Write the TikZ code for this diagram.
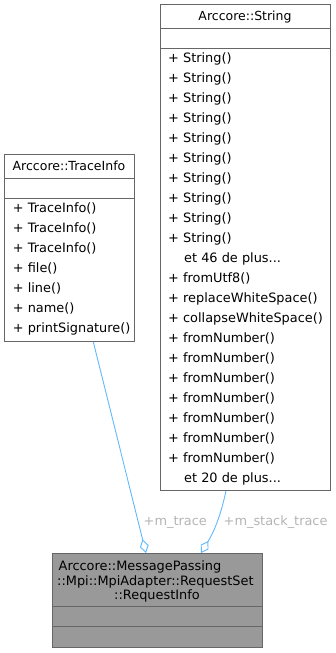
\documentclass[tikz,border=0pt]{standalone}
\usepackage{fontspec}
\setmainfont{DejaVu Sans}
\usetikzlibrary{arrows.meta,calc}
\definecolor{boxline}{HTML}{666666}
\definecolor{edgeblue}{HTML}{63B8FF}
\definecolor{labelgrey}{HTML}{B4B4B4}
\definecolor{classfill}{HTML}{999999}
\tikzset{
  classbox/.style={draw=boxline, line width=0.9pt, inner sep=0pt, anchor=north west},
  sepline/.style={draw=boxline, line width=0.9pt},
  member/.style={anchor=base west, inner sep=0pt, font=\fontsize{12.9}{14}\selectfont},
  title/.style={anchor=base, inner sep=0pt, font=\fontsize{12.5}{14}\selectfont},
  edgelabel/.style={anchor=base west, inner sep=0pt, text=labelgrey, font=\fontsize{12.9}{14}\selectfont},
  assoc/.style={draw=edgeblue, line width=0.9pt,
    -{Diamond[open, length=14pt, width=9pt, line width=0.9pt]}},
}
\begin{document}
\begin{tikzpicture}[x=1pt,y=-1pt]
\useasboundingbox (0,0) rectangle (335,653);

% Arccore::String
\node[classbox, fill=white, minimum width=170pt, minimum height=486pt] (str) at (160,4) {};
\draw[sepline] (160,28) -- (330,28);
\draw[sepline] (160,48) -- (330,48);
\node[title] (strt) at (245,20.7) {Arccore::String};
\foreach \i in {0,...,9}{
  \node[member] (strm\i) at (168,62+20*\i) {+ String()};
}
\node[member] (strx1) at (184,262) {et 46 de plus...};
\node[member] (strm10) at (168,282) {+ fromUtf8()};
\node[member] (strm11) at (168,302) {+ replaceWhiteSpace()};
\node[member] (strm12) at (168,322) {+ collapseWhiteSpace()};
\foreach \i in {0,...,6}{
  \node[member] (strn\i) at (168,342+20*\i) {+ fromNumber()};
}
\node[member] (strx2) at (184,482) {et 20 de plus...};

% Arccore::TraceInfo
\node[classbox, fill=white, minimum width=130pt, minimum height=187pt] (ti) at (4,154) {};
\draw[sepline] (4,178) -- (134,178);
\draw[sepline] (4,198) -- (134,198);
\node[title] (tit) at (69,170.7) {Arccore::TraceInfo};
\node[member] (tim0) at (12.7,212) {+ TraceInfo()};
\node[member] (tim1) at (12.7,232) {+ TraceInfo()};
\node[member] (tim2) at (12.7,252) {+ TraceInfo()};
\node[member] (tim3) at (12.7,272) {+ file()};
\node[member] (tim4) at (12.7,292) {+ line()};
\node[member] (tim5) at (12.7,312) {+ name()};
\node[member] (tim6) at (12.7,332) {+ printSignature()};

% Arccore::MessagePassing::Mpi::MpiAdapter::RequestSet::RequestInfo
\node[classbox, fill=classfill, minimum width=210pt, minimum height=94pt] (ri) at (52,553) {};
\draw[sepline] (52,606) -- (262,606);
\draw[sepline] (52,626) -- (262,626);
\node[member] (rit1) at (58.5,570.7) {Arccore::MessagePassing};
\node[member] (rit2) at (57,585) {::Mpi::MpiAdapter::RequestSet};
\node[anchor=base, inner sep=0pt, font=\fontsize{12.9}{14}\selectfont] (rit3) at (157,599.3) {::RequestInfo};

% associations
\coordinate (tiout) at ($(ti.south west)+(89.3,0)$);
\coordinate (riin1) at ($(ri.north west)+(94,0)$);
\coordinate (strout) at ($(str.south west)+(66,0)$);
\coordinate (riin2) at ($(ri.north west)+(149,0)$);
\draw[assoc] (tiout) -- (riin1);
\draw[assoc] (strout) .. controls (221,514) and (215,530) .. (riin2);
\node[edgelabel] (l1) at (143.5,525) {+m\_trace};
\node[edgelabel] (l2) at (223.5,525) {+m\_stack\_trace};
\end{tikzpicture}
\end{document}
